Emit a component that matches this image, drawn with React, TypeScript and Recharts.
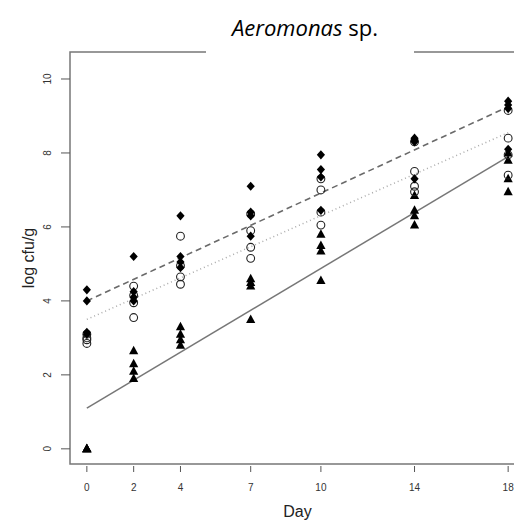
import React from "react";
import {
  ScatterChart,
  Scatter,
  XAxis,
  YAxis,
  ReferenceLine,
  ReferenceArea,
  Label,
} from "recharts";

// sampling days
const DAYS = [0, 2, 4, 7, 10, 14, 18];
const Y_TICKS = [0, 2, 4, 6, 8, 10];

// log cfu/g per day (one row per day)
const diamondVals = [
  [4.3, 4.0, 3.15, 3.1],
  [5.2, 4.25, 4.1, 4.0],
  [6.3, 5.2, 5.05, 4.9],
  [7.1, 6.4, 6.3, 5.75],
  [7.95, 7.55, 7.35, 6.45],
  [8.4, 8.35, 8.3, 7.3],
  [9.4, 9.3, 9.2, 8.1],
];
const circleVals = [
  [3.1, 3.0, 2.95, 2.85],
  [4.4, 4.15, 3.95, 3.55],
  [5.75, 4.95, 4.65, 4.45],
  [6.35, 5.9, 5.45, 5.15],
  [7.3, 7.0, 6.4, 6.05],
  [8.3, 7.5, 7.1, 6.95],
  [9.15, 8.4, 7.95, 7.4],
];
const triangleVals = [
  [0, 0, 0, 0],
  [2.65, 2.3, 2.1, 1.9],
  [3.3, 3.1, 2.95, 2.8],
  [4.6, 4.5, 4.4, 3.5],
  [5.8, 5.5, 5.35, 4.55],
  [6.85, 6.45, 6.3, 6.05],
  [8.0, 7.8, 7.3, 6.95],
];

// fitted lines, value at first and last day
const FIT_DAYS = [0, 18];
const dashedFit = [4.0, 9.25];
const dottedFit = [3.5, 8.55];
const solidFit = [1.1, 7.9];

const X_DOMAIN = [-0.72, 18.72];
const Y_DOMAIN = [-0.41, 10.73];

const toPoints = (vals: number[][]) =>
  vals.flatMap((row, i) => row.map((v) => ({ x: DAYS[i], y: v })));

const seg = (fit: number[]) => [
  { x: FIT_DAYS[0], y: fit[0] },
  { x: FIT_DAYS[1], y: fit[1] },
];

const axisFont = "'Liberation Sans', Arial, sans-serif";

const Diamond = (p: any) => (
  <path
    d={`M${p.cx},${p.cy - 4.6} L${p.cx + 4.1},${p.cy} L${p.cx},${p.cy + 4.6} L${p.cx - 4.1},${p.cy} Z`}
    fill="#000"
  />
);
const Ring = (p: any) => (
  <circle cx={p.cx} cy={p.cy} r={3.9} fill="none" stroke="#222" strokeWidth={1.1} />
);
const Tri = (p: any) => (
  <path
    d={`M${p.cx},${p.cy - 5} L${p.cx + 4.6},${p.cy + 3.5} L${p.cx - 4.6},${p.cy + 3.5} Z`}
    fill="#000"
  />
);

const XTick = ({ x, y, payload }: any) => (
  <g>
    <line x1={x} x2={x} y1={y + 2} y2={y + 8} stroke="#555" />
    <text
      x={x}
      y={y + 23}
      textAnchor="middle"
      dominantBaseline="central"
      fontSize={10}
      fontFamily={axisFont}
      fill="#333"
    >
      {payload.value}
    </text>
  </g>
);

const YTick = ({ x, y, payload }: any) => (
  <g>
    <line x1={x - 9} x2={x} y1={y} y2={y} stroke="#555" />
    <text
      x={x - 22}
      y={y}
      transform={`rotate(-90 ${x - 22} ${y})`}
      textAnchor="middle"
      dominantBaseline="central"
      fontSize={10}
      fontFamily={axisFont}
      fill="#333"
    >
      {payload.value}
    </text>
  </g>
);

export default function App() {
  return (
    <div style={{ position: "relative", width: 514, height: 521, overflow: "hidden", background: "#fff" }}>
      <ScatterChart width={530} height={521} margin={{ top: 44, right: 13, bottom: 25, left: 22 }}>
        <XAxis
          type="number"
          dataKey="x"
          domain={X_DOMAIN}
          ticks={DAYS}
          axisLine={false}
          tickLine={false}
          tickSize={0}
          tickMargin={0}
          height={40}
          tick={<XTick />}
        >
          <Label
            content={({ viewBox }: any) => (
              <text
                x={viewBox.x + viewBox.width / 2}
                y={503}
                textAnchor="middle"
                dominantBaseline="central"
                fontSize={16}
                fontFamily={axisFont}
                fill="#222"
              >
                Day
              </text>
            )}
          />
        </XAxis>
        <YAxis
          type="number"
          dataKey="y"
          domain={Y_DOMAIN}
          ticks={Y_TICKS}
          axisLine={false}
          tickLine={false}
          tickSize={0}
          tickMargin={0}
          width={40}
          tick={<YTick />}
        >
          <Label
            content={({ viewBox }: any) => {
              const cx = 20;
              const cy = viewBox.y + viewBox.height / 2;
              return (
                <text
                  x={cx}
                  y={cy}
                  transform={`rotate(-90 ${cx} ${cy})`}
                  textAnchor="middle"
                  dominantBaseline="central"
                  fontSize={16}
                  fontFamily={axisFont}
                  fill="#222"
                >
                  log cfu/g
                </text>
              );
            }}
          />
        </YAxis>
        <ReferenceArea
          x1={X_DOMAIN[0]}
          x2={X_DOMAIN[1]}
          y1={Y_DOMAIN[0]}
          y2={Y_DOMAIN[1]}
          fill="none"
          stroke="#777"
          strokeWidth={1.5}
          fillOpacity={0}
        />
        <Scatter data={toPoints(triangleVals)} shape={<Tri />} isAnimationActive={false} />
        <Scatter data={toPoints(circleVals)} shape={<Ring />} isAnimationActive={false} />
        <Scatter data={toPoints(diamondVals)} shape={<Diamond />} isAnimationActive={false} />
        <ReferenceLine segment={seg(dashedFit)} stroke="#6a6a6a" strokeWidth={1.6} strokeDasharray="6 4" />
        <ReferenceLine segment={seg(dottedFit)} stroke="#aaa" strokeWidth={1.5} strokeDasharray="1 3" />
        <ReferenceLine segment={seg(solidFit)} stroke="#777" strokeWidth={1.5} />
      </ScatterChart>
      <div
        style={{
          position: "absolute",
          left: 198,
          top: 34,
          width: 208,
          height: 18,
          background: "#fff",
        }}
      />
      <div
        style={{
          position: "absolute",
          left: 147,
          top: 5,
          width: 300,
          lineHeight: "28px",
          textAlign: "center",
          fontFamily: "'Open Sans', sans-serif",
          fontSize: 22,
          color: "#000",
        }}
      >
        <i>Aeromonas</i> sp.
      </div>
    </div>
  );
}
